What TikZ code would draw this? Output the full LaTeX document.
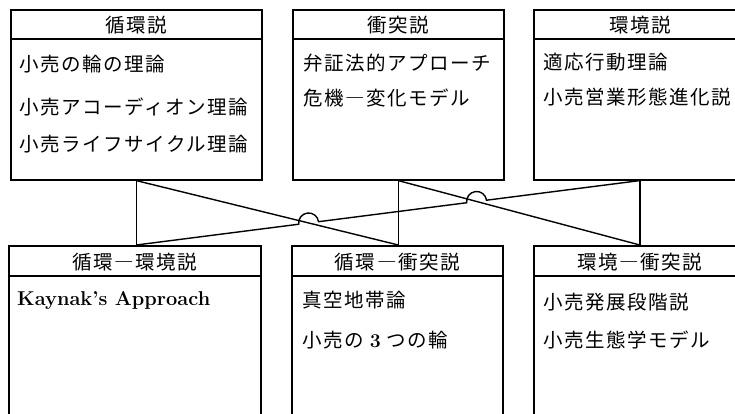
\documentclass[tikz,border=0pt]{standalone}
\usepackage{fontspec}
\newfontfamily\jp{Noto Sans CJK JP}[LetterSpace=8]
\usetikzlibrary{calc,intersections}
\begin{document}
\begin{tikzpicture}[x=1pt,y=1pt,
  frame/.style={draw, line width=1.6pt, inner sep=0pt, anchor=north west},
  ttl/.style={font=\jp\fontsize{19.5}{21}\selectfont, inner sep=0pt},
  item/.style={font=\jp\fontsize{19.5}{21}\selectfont, anchor=west, inner sep=0pt},
  link/.style={line width=1.4pt}]
\useasboundingbox (0,0) rectangle (735,413);
\clip (0,0) rectangle (735,413);
% boxes
\node[frame, minimum width=251pt, minimum height=169.5pt] (b1) at (10,403.5) {};
\node[frame, minimum width=211pt, minimum height=169.5pt] (b2) at (292,403.5) {};
\node[frame, minimum width=212pt, minimum height=169.5pt] (b3) at (533,403.5) {};
\node[frame, minimum width=252pt, minimum height=200pt] (b4) at (8,168) {};
\node[frame, minimum width=211pt, minimum height=200pt] (b5) at (291,168) {};
\node[frame, minimum width=212pt, minimum height=200pt] (b6) at (533,168) {};
\foreach \b/\h in {b1/29.5,b2/29.5,b3/29.5,b4/31,b5/31,b6/31}
  \draw[line width=1.6pt] ([yshift=-\h pt]\b.north west) -- ([yshift=-\h pt]\b.north east);
% titles
\node[ttl] (t1) at ([yshift=-16pt]b1.north) {循環説};
\node[ttl] (t2) at ([yshift=-16pt]b2.north) {衝突説};
\node[ttl] (t3) at ([yshift=-16pt]b3.north) {環境説};
\node[ttl] (t4) at ([yshift=-17pt]b4.north) {循環―環境説};
\node[ttl] (t5) at ([yshift=-17pt]b5.north) {循環―衝突説};
\node[ttl] (t6) at ([yshift=-17pt]b6.north) {環境―衝突説};
% items
\node[item] (i11) at (19,349) {小売の輪の理論};
\node[item] (i12) at (19,306) {小売アコーディオン理論};
\node[item] (i13) at (19,269) {小売ライフサイクル理論};
\node[item] (i21) at (303,350) {弁証法的アプローチ};
\node[item] (i22) at (303,315) {危機―変化モデル};
\node[item] (i31) at (543,351) {適応行動理論};
\node[item] (i32) at (543,316) {小売営業形態進化説};
\node[item, font=\bfseries\fontsize{20}{22}\selectfont] (i41) at (17,113) {Kaynak’s Approach};
\node[item] (i51) at (302,113) {真空地帯論};
\node[item] (i52) at (302,73) {小売の\ {\normalfont\bfseries 3}\ つの輪};
\node[item] (i61) at (543,111) {小売発展段階説};
\node[item] (i62) at (543,73) {小売生態学モデル};
% connectors
\coordinate (u1) at (b1.south);
\coordinate (u2) at (b2.south);
\coordinate (u3) at (b3.south);
\coordinate (l1) at (b1.south |- b4.north);
\coordinate (l2) at (b2.south |- b5.north);
\coordinate (l3) at (b3.south |- b6.north);
\draw[link] (u1) -- (l1);
\draw[link] (u2) -- (l2);
\draw[link] (u3) -- (l3);
\draw[link] (u1) -- (l2);
\draw[link] (u2) -- (l3);
\path[name path=d1] (u1) -- (l2);
\path[name path=d2] (u2) -- (l3);
\path[name path=d3] (u3) -- (l1);
\path[name intersections={of=d3 and d1, by=x1}];
\path[name intersections={of=d3 and d2, by=x2}];
\draw[link] let \p1=($(u3)-(l1)$), \n1={atan2(\y1,\x1)} in
  (u3) -- ($(x2)!10pt!(u3)$) arc[start angle=\n1, end angle=\n1+180, radius=10pt]
  -- ($(x1)!10pt!(u3)$) arc[start angle=\n1, end angle=\n1+180, radius=10pt] -- (l1);
\end{tikzpicture}
\end{document}
